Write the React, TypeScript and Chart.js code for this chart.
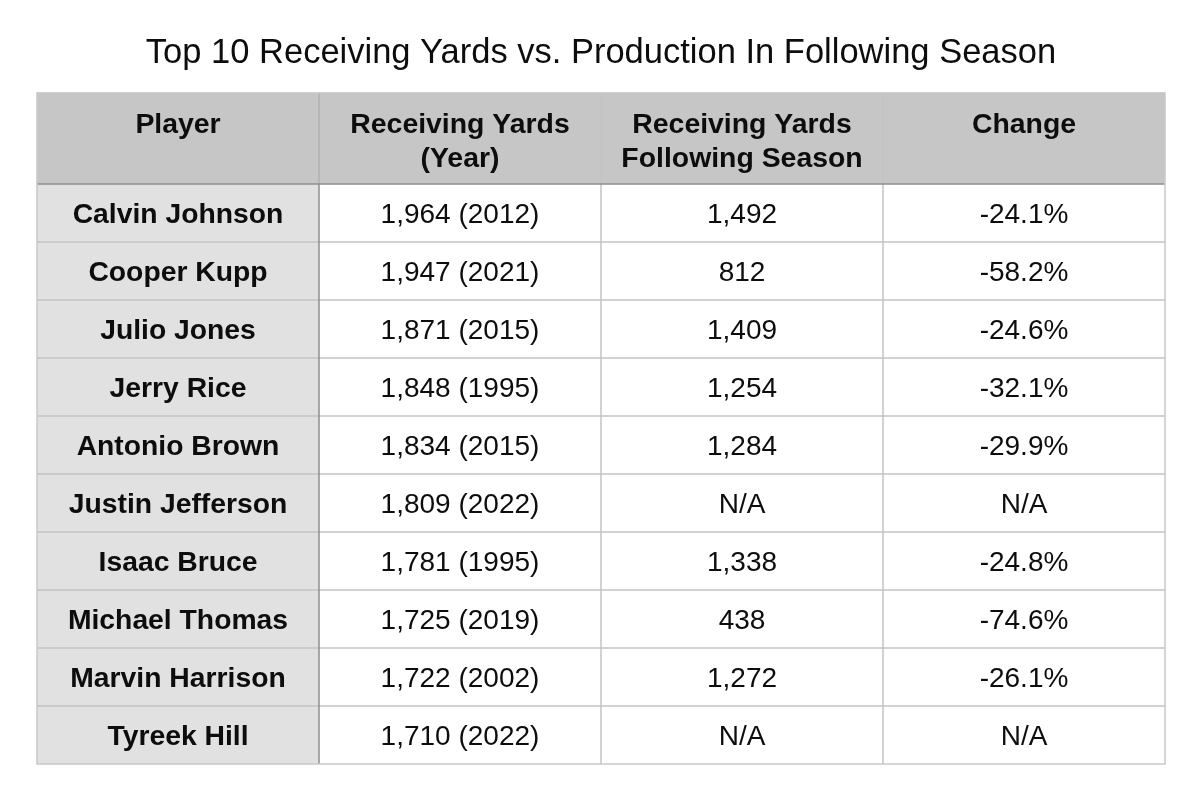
import React, { useEffect, useRef } from "react";
import { Chart, registerables } from "chart.js";

Chart.register(...registerables);

const TITLE = "Top 10 Receiving Yards vs. Production In Following Season";
const headers = ["Player", "Receiving Yards\n(Year)", "Receiving Yards\nFollowing Season", "Change"];
const players = [
  "Calvin Johnson",
  "Cooper Kupp",
  "Julio Jones",
  "Jerry Rice",
  "Antonio Brown",
  "Justin Jefferson",
  "Isaac Bruce",
  "Michael Thomas",
  "Marvin Harrison",
  "Tyreek Hill",
];
const yards = [1964, 1947, 1871, 1848, 1834, 1809, 1781, 1725, 1722, 1710];
const years = [2012, 2021, 2015, 1995, 2015, 2022, 1995, 2019, 2002, 2022];
const following: (number | null)[] = [1492, 812, 1409, 1254, 1284, null, 1338, 438, 1272, null];
const changePct: (number | null)[] = [-24.1, -58.2, -24.6, -32.1, -29.9, null, -24.8, -74.6, -26.1, null];

const HEADER_UNITS = 91 / 58;
const FONT = "'Liberation Sans', Arial, Helvetica, sans-serif";

const fmt = (v: number) => v.toLocaleString("en-US");

function cellText(row: number, col: number): string {
  if (col === 0) return players[row];
  if (col === 1) return `${fmt(yards[row])} (${years[row]})`;
  if (col === 2) return following[row] === null ? "N/A" : fmt(following[row] as number);
  const c = changePct[row];
  return c === null ? "N/A" : `${c.toFixed(1)}%`;
}

const tablePlugin = {
  id: "tablePlugin",
  afterDraw(chart: any) {
    const ctx = chart.ctx as CanvasRenderingContext2D;
    const xs = chart.scales.x;
    const ys = chart.scales.y;
    const nCols = headers.length;
    const nRows = players.length;
    const X = (v: number) => xs.getPixelForValue(v);
    const Y = (v: number) => ys.getPixelForValue(v);
    const rowTop = (r: number) => (r < 0 ? 0 : HEADER_UNITS + r);
    ctx.save();
    // backgrounds
    for (let c = 0; c < nCols; c++) {
      const x0 = X(c), x1 = X(c + 1);
      ctx.fillStyle = "#c6c6c6";
      ctx.fillRect(x0, Y(0), x1 - x0, Y(HEADER_UNITS) - Y(0));
      for (let r = 0; r < nRows; r++) {
        const y0 = Y(rowTop(r)), y1 = Y(rowTop(r) + 1);
        ctx.fillStyle = c === 0 ? "#e1e1e1" : "#ffffff";
        ctx.fillRect(x0, y0, x1 - x0, y1 - y0);
      }
    }
    // grid lines
    ctx.lineWidth = 1.5;
    ctx.strokeStyle = "#c3c3c3";
    for (let r = 1; r < nRows; r++) {
      const y = Y(rowTop(r));
      ctx.beginPath();
      ctx.moveTo(X(0), y);
      ctx.lineTo(X(nCols), y);
      ctx.stroke();
    }
    for (let c = 2; c < nCols; c++) {
      const x = X(c);
      ctx.beginPath();
      ctx.moveTo(x, Y(0));
      ctx.lineTo(x, Y(HEADER_UNITS + nRows));
      ctx.stroke();
    }
    ctx.strokeStyle = "#b0b0b0";
    ctx.beginPath();
    ctx.moveTo(X(1), Y(0));
    ctx.lineTo(X(1), Y(HEADER_UNITS));
    ctx.stroke();
    ctx.strokeStyle = "#8e8e8e";
    ctx.beginPath();
    ctx.moveTo(X(1), Y(HEADER_UNITS));
    ctx.lineTo(X(1), Y(HEADER_UNITS + nRows));
    ctx.stroke();
    ctx.strokeStyle = "#8e8e8e";
    ctx.beginPath();
    ctx.moveTo(X(0), Y(HEADER_UNITS));
    ctx.lineTo(X(nCols), Y(HEADER_UNITS));
    ctx.stroke();
    // outer border
    ctx.strokeStyle = "#c8c8c8";
    ctx.strokeRect(X(0), Y(0), X(nCols) - X(0), Y(HEADER_UNITS + nRows) - Y(0));
    // header text
    ctx.fillStyle = "#0d0d0d";
    ctx.textAlign = "center";
    ctx.textBaseline = "middle";
    ctx.font = `bold 28.4px ${FONT}`;
    for (let c = 0; c < nCols; c++) {
      const cx = (X(c) + X(c + 1)) / 2;
      const lines = headers[c].split("\n");
      lines.forEach((ln, i) => {
        ctx.fillText(ln, cx, Y(0) + 32 + i * 34);
      });
    }
    // body text
    for (let r = 0; r < nRows; r++) {
      const cy = (Y(rowTop(r)) + Y(rowTop(r) + 1)) / 2 + 2;
      for (let c = 0; c < nCols; c++) {
        const cx = (X(c) + X(c + 1)) / 2;
        ctx.font = c === 0 ? `bold 28.3px ${FONT}` : `28px ${FONT}`;
        ctx.fillText(cellText(r, c), cx, cy);
      }
    }
    ctx.restore();
  },
};

export default function App() {
  const ref = useRef<HTMLCanvasElement | null>(null);
  useEffect(() => {
    if (!ref.current) return;
    const chart = new Chart(ref.current, {
      type: "scatter",
      data: { datasets: [{ data: [], pointRadius: 0 }] },
      options: {
        responsive: false,
        animation: false,
        layout: { padding: { left: 37, right: 35, top: 0, bottom: 37 } },
        plugins: {
          legend: { display: false },
          tooltip: { enabled: false },
          title: {
            display: true,
            text: TITLE,
            color: "#0d0d0d",
            font: { family: FONT, size: 34.5, weight: "normal" },
            padding: { top: 33, bottom: 18.5 },
          },
        },
        scales: {
          x: { type: "linear", min: 0, max: headers.length, display: false },
          y: { type: "linear", min: 0, max: HEADER_UNITS + players.length, reverse: true, display: false },
        },
      },
      plugins: [tablePlugin],
    });
    return () => chart.destroy();
  }, []);
  return (
    <div style={{ position: "fixed", left: 0, top: 0, width: 1200, height: 801, background: "#fff" }}>
      <canvas ref={ref} width={1200} height={801} style={{ width: 1200, height: 801 }} />
    </div>
  );
}
